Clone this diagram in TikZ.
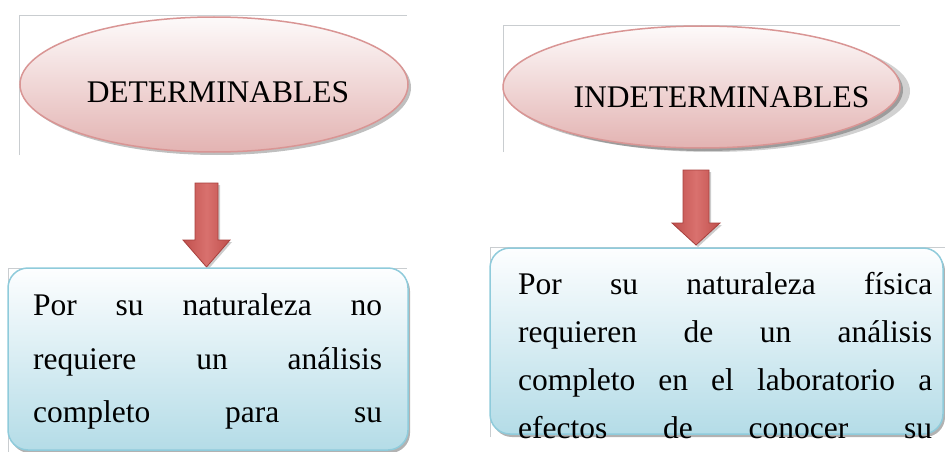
\documentclass[tikz,border=0pt]{standalone}
\usepackage{fontspec}
\setmainfont{Liberation Serif}
\usetikzlibrary{shapes.geometric,shadows}
\definecolor{ellT}{HTML}{FDFAFA}
\definecolor{ellB}{HTML}{E3B3B2}
\definecolor{ellline}{HTML}{D99594}
\definecolor{boxT}{HTML}{FDFEFF}
\definecolor{boxB}{HTML}{B4DCE7}
\definecolor{boxline}{HTML}{8FCBDB}
\definecolor{arrD}{HTML}{C0504D}
\definecolor{arrL}{HTML}{D9716E}
\definecolor{arrE}{HTML}{A8403D}
\definecolor{frameline}{HTML}{C9CDD0}
\tikzset{
  ellbox/.style={ellipse, draw=ellline, line width=1.5pt, top color=ellT, bottom color=ellB,
    drop shadow={shadow xshift=3pt, shadow yshift=-3pt, fill=black, opacity=0.25}},
  headtext/.style={font=\fontsize{31.5pt}{36pt}\selectfont, inner sep=0pt},
  txtbox/.style={rectangle, rounded corners=20pt, draw=boxline, line width=1.5pt,
    top color=boxT, bottom color=boxB,
    drop shadow={shadow xshift=2pt, shadow yshift=-3pt, fill=black, opacity=0.3}},
  txtline/.style={font=\fontsize{31.5pt}{36pt}\selectfont, inner sep=0pt, anchor=base west},
  blockarrow/.style={draw=arrE, line width=0.8pt, left color=arrD, right color=arrD, middle color=arrL,
    drop shadow={shadow xshift=2pt, shadow yshift=-2pt, fill=black, opacity=0.2}},
  frame/.style={draw=frameline, line width=0.6pt}
}
\begin{document}
\begin{tikzpicture}[x=1pt,y=-1pt]
\useasboundingbox[fill=white] (0,0) rectangle (945,452);
% faint frame lines
\draw[frame] (19,155) -- (19,15) -- (407,15);
\draw[frame] (503,152) -- (503,25) -- (900,25);
\draw[frame] (8,452) -- (8,268) -- (407,268);
\draw[frame] (490,437) -- (490,247) -- (945,247);
% ellipses
\node[ellbox, minimum width=388pt, minimum height=135pt] (e1) at (214,84.5) {};
\node[headtext] (h1) at (218,92) {DETERMINABLES};
\node[ellbox, minimum width=397pt, minimum height=122pt,
  drop shadow={shadow xshift=10pt, shadow yshift=-4pt, fill=black, opacity=0.18}] (e2) at (701.5,87) {};
\node[headtext] (h2) at (721.5,97) {INDETERMINABLES};
% block arrows
\path[blockarrow] (195,183) -- (218,183) -- (218,240) -- (230,240) -- (206.5,267)
  -- (183,240) -- (195,240) -- cycle;
\path[blockarrow] (683,170) -- (709,170) -- (709,223) -- (720,223) -- (696,245)
  -- (672,223) -- (683,223) -- cycle;
% boxes
\node[txtbox, minimum width=400pt, minimum height=182pt] (b1) at (208,359) {};
\node[txtbox, minimum width=453pt, minimum height=186pt] (b2) at (716.5,341) {};
% texts
\node[txtline] (l1a) at (33,315) {\makebox[349pt][s]{Por su naturaleza no}};
\node[txtline] (l1b) at (33,369) {\makebox[349pt][s]{requiere un análisis}};
\node[txtline] (l1c) at (33,422) {\makebox[349pt][s]{completo para su}};
\node[txtline] (l2a) at (518,294) {\makebox[414pt][s]{Por su naturaleza física}};
\node[txtline] (l2b) at (518,342) {\makebox[414pt][s]{requieren de un análisis}};
\node[txtline] (l2c) at (518,390) {\makebox[414pt][s]{completo en el laboratorio a}};
\node[txtline] (l2d) at (518,438) {\makebox[414pt][s]{efectos de conocer su}};
\end{tikzpicture}
\end{document}
